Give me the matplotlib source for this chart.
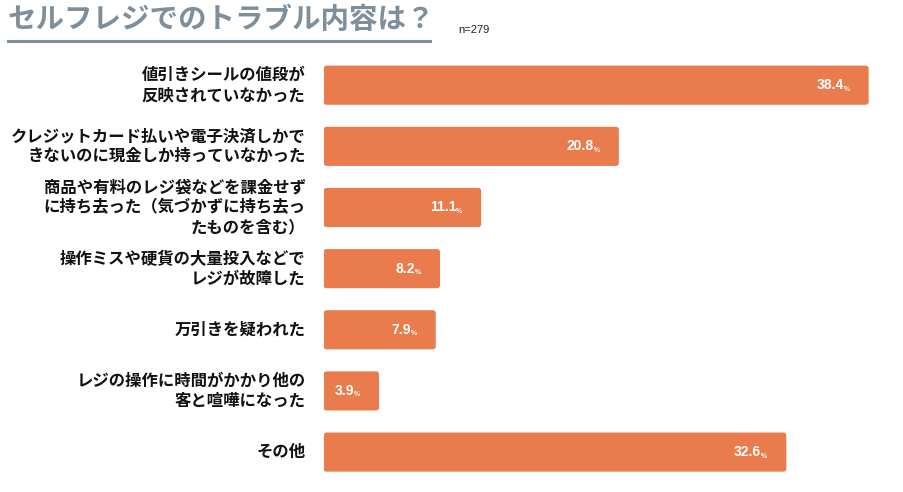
import matplotlib
matplotlib.use("Agg")
import matplotlib.pyplot as plt
from matplotlib.lines import Line2D
from matplotlib.patches import FancyBboxPatch

plt.rcParams['font.family'] = ['Noto Sans CJK JP', 'DejaVu Sans']

labels = [
    "値引きシールの値段が\n反映されていなかった",
    "クレジットカード払いや電子決済しかで\nきないのに現金しか持っていなかった",
    "商品や有料のレジ袋などを課金せず\nに持ち去った（気づかずに持ち去っ\nたものを含む）",
    "操作ミスや硬貨の大量投入などで\nレジが故障した",
    "万引きを疑われた",
    "レジの操作に時間がかかり他の\n客と喧嘩になった",
    "その他",
]
values = [38.4, 20.8, 11.1, 8.2, 7.9, 3.9, 32.6]

bar_color = "#E97B4C"
title_color = "#7F8E9B"

fig = plt.figure(figsize=(9.04, 4.92), dpi=100)
ax = fig.add_axes([0.358, 0.019, 0.628, 0.870])

ypos = list(range(len(values)))
bars = ax.barh(ypos, values, height=0.64, color=bar_color)
# swap plain rectangles for slightly rounded ones
for b in bars:
    b.set_visible(False)
    ax.add_patch(FancyBboxPatch((b.get_x(), b.get_y()), b.get_width(), b.get_height(),
                                boxstyle="round,pad=0,rounding_size=0.2",
                                mutation_aspect=0.23, fc=bar_color, ec="none"))
ax.set_xlim(0, 40)
ax.set_ylim(len(values) - 0.5, -0.5)
ax.axis("off")

for y, lab in zip(ypos, labels):
    ax.annotate(lab, xy=(0, y), xytext=(-18, 0), textcoords="offset pixels",
                ha="right", va="center", fontsize=11.8, fontweight="bold",
                color="#111111", linespacing=1.12)

for y, v in zip(ypos, values):
    ax.annotate(f"{v:.1f}", xy=(v, y), xytext=(-25, 0), textcoords="offset pixels",
                ha="right", va="center", fontsize=10, fontweight="bold",
                color="white", family=["Liberation Sans", "DejaVu Sans"])
    ax.annotate("%", xy=(v, y), xytext=(-25, -4), textcoords="offset pixels",
                ha="left", va="center", fontsize=5, fontweight="bold",
                color="white", family=["Liberation Sans", "DejaVu Sans"])

fig.text(8 / 904, 1 - 20 / 492, "セルフレジでのトラブル内容は？", ha="left", va="center",
         fontsize=20.5, fontweight="bold", color=title_color)
fig.add_artist(Line2D([8 / 904, 430 / 904], [1 - 41 / 492, 1 - 41 / 492],
                      color=title_color, linewidth=2.2, transform=fig.transFigure))
fig.text(458 / 904, 1 - 30 / 492, "n=279", ha="left", va="center",
         fontsize=8, color="#222222", family=["Liberation Sans", "DejaVu Sans"])

fig.savefig("out.png", dpi=100, facecolor="white")
